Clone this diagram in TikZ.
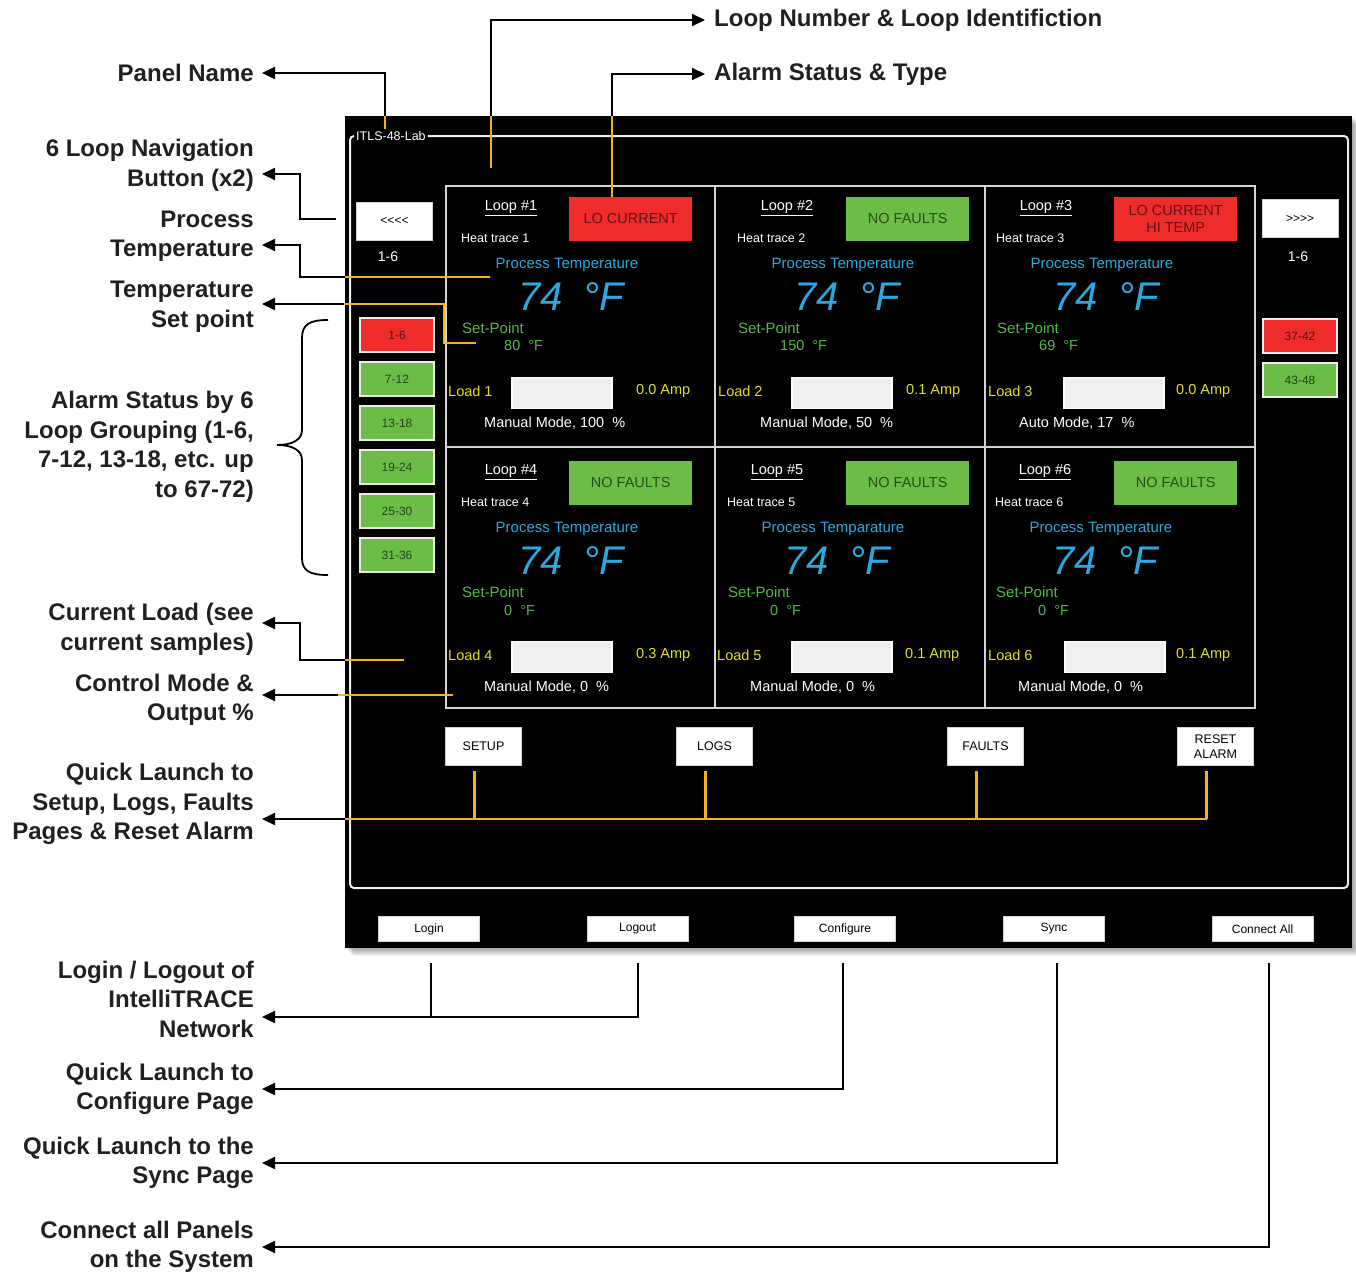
\documentclass[tikz,border=0pt]{standalone}
\usepackage{fontspec}
\setmainfont{Liberation Sans}
\usetikzlibrary{arrows.meta}

\definecolor{hlorange}{HTML}{F5B21A}
\definecolor{alarmred}{HTML}{EE2C2C}
\definecolor{okgreen}{HTML}{6CBD45}
\definecolor{pvblue}{HTML}{2AA9E0}
\definecolor{spgreen}{HTML}{55B947}
\definecolor{ldyellow}{HTML}{E3E11B}
\definecolor{lbltext}{HTML}{231F20}
\definecolor{gridgray}{HTML}{D4D4D4}

\tikzset{
  lbl/.style={font=\fontsize{24}{29.5}\selectfont\bfseries, text=lbltext, align=right,
    anchor=east, inner xsep=8pt, inner ysep=0pt},
  tlbl/.style={lbl, align=left, anchor=west, inner xsep=9pt},
  conn/.style={draw=black, line width=2pt},
  hl/.style={draw=hlorange, line width=2.2pt},
  framel/.style={draw=gray!15, line width=2pt},
  gridln/.style={draw=gridgray, line width=2pt},
  wbtn/.style={fill=white, draw=gray!35, line width=1pt, minimum width=76pt,
    minimum height=38pt, inner sep=1pt, align=center,
    font=\fontsize{12.5}{14.5}\selectfont},
  barbtn/.style={wbtn, minimum width=101pt, minimum height=25pt,
    font=\fontsize{12}{13}\selectfont},
  grpbtn/.style={draw=gray!15, line width=2pt, minimum width=74pt, minimum height=34pt,
    inner sep=0pt, font=\fontsize{12}{13}\selectfont},
  stat/.style={minimum width=123pt, minimum height=44pt, inner sep=0pt, align=center,
    font=\fontsize{14.5}{17.5}\selectfont},
  celltxt/.style={text=white, inner sep=0pt, font=\fontsize{14.5}{17}\selectfont},
  loadbar/.style={minimum width=100pt, minimum height=31pt, inner sep=0pt,
    fill=gray!12, draw=white, line width=1.5pt}
}

\begin{document}
\begin{tikzpicture}[x=1pt,y=-1pt,>={Triangle[length=13pt,width=12pt]}]
\useasboundingbox (0,0) rectangle (1356,1274);

% panel with soft shadow
\foreach \s in {1,...,8}
  \fill[black, opacity=0.05] ({345+\s},{116+\s}) rectangle ({1352+\s},{948+\s});
\fill[black] (345,116) rectangle (1352,948);

% panel name and frame
\node[text=white, inner sep=2pt, anchor=west, font=\fontsize{12.5}{14}\selectfont]
  (ttl) at (354,136) {ITLS-48-Lab};
\draw[framel, rounded corners=4pt] (ttl.west) -- (350,136) -- (350,888)
  -- (1348,888) -- (1348,136) -- (ttl.east);

% loop grid
\draw[gridln] (446,186) rectangle (1255,708);
\draw[gridln] (715,186) -- (715,708) (985,186) -- (985,708) (446,447) -- (1255,447);

% loop cells
\foreach \n/\dx/\ex/\T/\sx/\bx/\sc/\stxt/\spv/\amp/\mode/\pw in {
  1/0/0/0/569/511/alarmred/{LO CURRENT}/80/0.0/{Manual Mode, 100}/Temperature,
  2/276/270/0/846/791/okgreen/{NO FAULTS}/150/0.1/{Manual Mode, 50}/Temperature,
  3/535/540/0/1114/1063/alarmred/{LO CURRENT\\HI TEMP}/69/0.0/{Auto Mode, 17}/Temperature,
  4/0/0/264/569/511/okgreen/{NO FAULTS}/0/0.3/{Manual Mode, 0}/Temperature,
  5/266/269/264/846/791/okgreen/{NO FAULTS}/0/0.1/{Manual Mode, 0}/Temparature,
  6/534/540/264/1114/1064/okgreen/{NO FAULTS}/0/0.1/{Manual Mode, 0}/Temperature}{
  \node[celltxt] (loop\n) at ({511+\dx},{208+\T}) {\underline{Loop \#\n}};
  \node[stat, fill=\sc, text=\sc!40!black, anchor=west] (stat\n) at (\sx,{219+\T}) {\stxt};
  \node[celltxt, anchor=west, font=\fontsize{12.5}{14}\selectfont] (heat\n)
    at ({461+\dx},{238+\T}) {Heat trace \n};
  \node[celltxt, text=pvblue, font=\fontsize{15}{17}\selectfont] (pvt\n)
    at ({567+\dx},{265+\T}) {Process \pw};
  \node[celltxt, text=pvblue, font=\fontsize{40}{44}\selectfont\itshape] (pv\n)
    at ({571+\dx},{297+\T}) {74\hspace{20pt}°F};
  \node[celltxt, anchor=west, text=spgreen, font=\fontsize{15}{17}\selectfont] (spt\n)
    at ({462+\dx},{328+\T}) {Set-Point};
  \node[celltxt, anchor=west, text=spgreen] (sp\n) at ({504+\dx},{346+\T}) {\spv\hspace{8pt}°F};
  \node[celltxt, anchor=west, text=ldyellow] (ld\n) at ({448+\ex},{391+\T}) {Load \n};
  \node[loadbar, anchor=west] (bar\n) at (\bx,{393+\T}) {};
  \node[celltxt, anchor=west, text=ldyellow] (amp\n) at ({636+\ex},{391+\T}) {\amp{} Amp};
  \node[celltxt, anchor=west] (mode\n) at ({484+\dx},{423+\T}) {\mode\hspace{8pt}\%};
}

% navigation and group buttons
\node[wbtn, font=\fontsize{12}{13}\selectfont] (navL) at (394.5,221) {<{}<{}<{}<};
\node[wbtn, font=\fontsize{12}{13}\selectfont] (navR) at (1300,218.5) {>{}>{}>{}>};
\node[celltxt, font=\fontsize{14}{16}\selectfont] (navLtxt) at (388,257) {1-6};
\node[celltxt, font=\fontsize{14}{16}\selectfont] (navRtxt) at (1298,257) {1-6};
\foreach \g/\y/\c [count=\i] in {1-6/335/alarmred, 7-12/379/okgreen, 13-18/423/okgreen,
    19-24/467/okgreen, 25-30/511/okgreen, 31-36/555/okgreen}
  \node[grpbtn, fill=\c, text=\c!35!black] (grp\i) at (397,\y) {\g};
\node[grpbtn, fill=alarmred, text=alarmred!35!black] (grpR1) at (1300,336) {37-42};
\node[grpbtn, fill=okgreen, text=okgreen!35!black] (grpR2) at (1300,380) {43-48};

% quick launch buttons
\node[wbtn] (bSetup) at (483.5,746.5) {SETUP};
\node[wbtn] (bLogs) at (714.5,746.5) {LOGS};
\node[wbtn] (bFaults) at (985.5,746.5) {FAULTS};
\node[wbtn] (bReset) at (1215.5,746.5) {RESET\\ALARM};

% bottom bar
\node[barbtn] (bLogin) at (429,929) {Login};
\node[barbtn] (bLogout) at (637.5,929) {Logout};
\node[barbtn] (bConf) at (845,929) {Configure};
\node[barbtn] (bSync) at (1054,929) {Sync};
\node[barbtn] (bConn) at (1262.5,929) {Connect All};

% callout labels
\node[lbl] (lblPanel) at (262,73) {Panel Name};
\node[lbl] (lblNav) at (262,165.5) {6 Loop Navigation\\Button (x2)};
\node[lbl] (lblPT) at (262,236) {Process\\Temperature};
\node[lbl] (lblSP) at (262,306.5) {Temperature\\Set point};
\node[lbl] (lblGrp) at (262,447) {Alarm Status by 6\\Loop Grouping (1-6,\\7-12, 13-18, etc. up\\to 67-72)};
\node[lbl] (lblLoad) at (262,629.5) {Current Load (see\\current samples)};
\node[lbl] (lblMode) at (262,700) {Control Mode \&\\Output \%};
\node[lbl] (lblQL) at (262,804) {Quick Launch to\\Setup, Logs, Faults\\Pages \& Reset Alarm};
\node[lbl] (lblLogin) at (262,999) {Login / Logout of\\IntelliTRACE\\Network};
\node[lbl] (lblConf) at (262,1089) {Quick Launch to\\Configure Page};
\node[lbl] (lblSync) at (262,1163) {Quick Launch to the\\Sync Page};
\node[lbl] (lblConn) at (262,1247) {Connect all Panels\\on the System};
\node[tlbl] (lblLoopNo) at (705,20) {Loop Number \& Loop Identifiction};
\node[tlbl] (lblAlarm) at (705,74) {Alarm Status \& Type};

% connectors
\coordinate (sPanel) at (385,116);
\draw[hl] (ttl.north -| sPanel) -- (sPanel);
\draw[conn,->] (sPanel) |- (lblPanel.east);

\coordinate (hLoopNo) at (491,168);
\coordinate (sLoopNo) at (491,116);
\draw[hl] (hLoopNo) -- (sLoopNo);
\draw[conn,->] (sLoopNo) |- (lblLoopNo.west);

\coordinate (sAlarm) at (612,116);
\draw[hl] (stat1.north -| sAlarm) -- (sAlarm);
\draw[conn,->] (sAlarm) |- (lblAlarm.west);

\coordinate (sNav) at (336,219);
\coordinate (kNav) at (300,174);
\draw[conn,->] (sNav) -| (kNav) -- (lblNav.east |- kNav);

\coordinate (hPT) at (490,277);
\coordinate (sPT) at (345,277);
\coordinate (kPT) at (300,245);
\draw[hl] (hPT) -- (sPT);
\draw[conn,->] (sPT) -| (kPT) -- (lblPT.east |- kPT);

\coordinate (hSP) at (476,343);
\coordinate (kSP) at (444,304);
\coordinate (sSP) at (344,304);
\draw[hl] (hSP) -| (kSP) -- (sSP);
\draw[conn,->] (sSP) -- (lblSP.east |- sSP);

% brace for group buttons
\draw[conn, line width=1.8pt] (328,320) .. controls (310,320) and (302,324) .. (302,338)
  -- (302,430) .. controls (302,440) and (292,445) .. (277,445)
  .. controls (292,445) and (302,450) .. (302,460)
  -- (302,558) .. controls (302,571) and (310,575) .. (328,575);

\coordinate (hLd) at (404,660);
\coordinate (sLd) at (345,660);
\coordinate (kLd) at (300,623);
\draw[hl] (hLd) -- (sLd);
\draw[conn,->] (sLd) -| (kLd) -- (lblLoad.east |- kLd);

\coordinate (hMd) at (453,695);
\coordinate (sMd) at (338,695);
\draw[hl] (hMd) -- (sMd);
\draw[conn,->] (sMd) -- (lblMode.east |- sMd);

\coordinate (qBus) at (345,819);
\foreach \b in {bSetup,bLogs,bFaults,bReset}
  \draw[hl] ([xshift=-9pt,yshift=-5pt]\b.south) -- ([xshift=-9pt]\b.south |- qBus);
\draw[hl] ([xshift=-9pt]bReset.south |- qBus) -- (qBus);
\draw[conn,->] (qBus) -- (lblQL.east |- qBus);

\coordinate (kLog) at (0,1017);
\draw[conn] ([xshift=2pt,yshift=-21pt]bLogin.south) -- ([xshift=2pt]bLogin.south |- kLog);
\draw[conn,->] ([yshift=-21pt]bLogout.south) |- (lblLogin.east |- kLog);
\draw[conn,->] ([xshift=-2pt,yshift=-21pt]bConf.south) |- (lblConf.east);
\draw[conn,->] ([xshift=3pt,yshift=-21pt]bSync.south) |- (lblSync.east);
\draw[conn,->] ([xshift=6.5pt,yshift=-21pt]bConn.south) |- (lblConn.east);
\end{tikzpicture}
\end{document}
